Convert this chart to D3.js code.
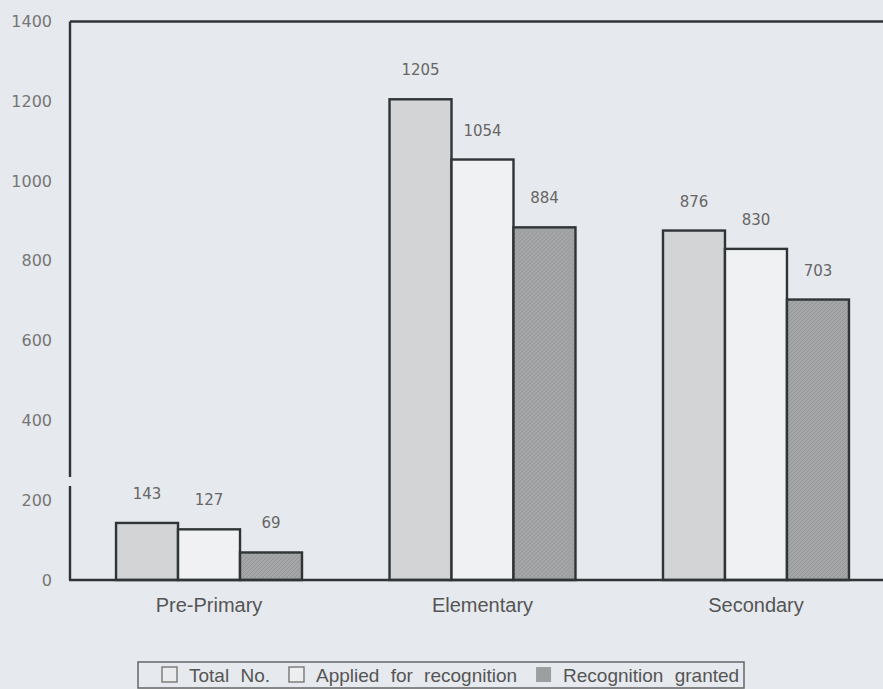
<!DOCTYPE html>
<html>
<head>
<meta charset="utf-8">
<script src="https://cdn.jsdelivr.net/npm/d3@7"></script>
<style>
  html, body { margin: 0; padding: 0; background: #e6e9ed; }
  svg { display: block; }
</style>
</head>
<body>
<div id="chart"></div>
<script>
// chart data
const categories = ["Pre-Primary", "Elementary", "Secondary"];
const seriesNames = ["Total No.", "Applied for recognition", "Recognition granted"];
const totalNo = [143, 1205, 876];
const applied = [127, 1054, 830];
const granted = [69, 884, 703];
const valueLabels = [["143", "127", "69"], ["1205", "1054", "884"], ["876", "830", "703"]];
const yTicks = [0, 200, 400, 600, 800, 1000, 1200, 1400];

const W = 883, H = 689;
const margin = {top: 21.5, left: 70, bottom: 580};
const fills = ["#d2d4d6", "#eff1f3", "url(#hatch)"];

const svg = d3.select("#chart").append("svg")
  .attr("width", W).attr("height", H);

svg.append("rect").attr("width", W).attr("height", H).attr("fill", "#e6e9ed");

// hatched fill for the darkest series
const pat = svg.append("defs").append("pattern")
  .attr("id", "hatch").attr("patternUnits", "userSpaceOnUse")
  .attr("width", 4).attr("height", 4);
pat.append("rect").attr("width", 4).attr("height", 4).attr("fill", "#a4a6a8");
pat.append("path").attr("d", "M0,4 L4,0").attr("stroke", "#939597").attr("stroke-width", 1);

const x0 = d3.scaleBand().domain(categories).range([69, 896])
  .paddingInner(0.32).paddingOuter(0.172);
const x1 = d3.scaleBand().domain(d3.range(3)).range([0, x0.bandwidth()]);
const y = d3.scaleLinear().domain([0, 1400]).range([margin.bottom, margin.top]);

// y tick labels
const yAxis = svg.append("g")
  .attr("transform", `translate(${margin.left},0)`)
  .call(d3.axisLeft(y).tickValues(yTicks).tickSize(0).tickPadding(18).tickFormat(d3.format("d")));
yAxis.select(".domain").remove();
yAxis.selectAll("text")
  .attr("font-family", "'DejaVu Sans', sans-serif")
  .attr("font-size", 16).attr("fill", "#767676");

// bars
const rows = categories.map((c, i) => ({cat: c, vals: [totalNo[i], applied[i], granted[i]], labels: valueLabels[i]}));
const groups = svg.selectAll("g.grp").data(rows).enter().append("g")
  .attr("class", "grp")
  .attr("transform", d => `translate(${x0(d.cat)},0)`);

groups.selectAll("rect").data(d => d.vals).enter().append("rect")
  .attr("x", (d, i) => x1(i))
  .attr("y", d => y(d))
  .attr("width", x1.bandwidth())
  .attr("height", d => y(0) - y(d))
  .attr("fill", (d, i) => fills[i])
  .attr("stroke", "#2f3436").attr("stroke-width", 2.4);

groups.selectAll("text").data(d => d.vals.map((v, i) => ({v: v, t: d.labels[i]}))).enter().append("text")
  .attr("x", (d, i) => x1(i) + x1.bandwidth() / 2)
  .attr("y", d => y(d.v) - 24)
  .attr("text-anchor", "middle")
  .attr("font-family", "'DejaVu Sans', sans-serif")
  .attr("font-size", 15).attr("fill", "#666")
  .text(d => d.t);

// frame: top line, left axis (with the small break from the scan), baseline
svg.append("line").attr("x1", margin.left).attr("x2", W).attr("y1", margin.top).attr("y2", margin.top)
  .attr("stroke", "#2f3436").attr("stroke-width", 2.4);
svg.append("line").attr("x1", margin.left).attr("x2", margin.left).attr("y1", margin.top).attr("y2", 477)
  .attr("stroke", "#2f3436").attr("stroke-width", 2.4);
svg.append("line").attr("x1", margin.left).attr("x2", margin.left).attr("y1", 486).attr("y2", margin.bottom)
  .attr("stroke", "#2f3436").attr("stroke-width", 2.4);

const xAxis = svg.append("g")
  .attr("transform", `translate(0,${margin.bottom})`)
  .call(d3.axisBottom(x0).tickSize(0).tickPadding(18));
xAxis.select(".domain").remove();
xAxis.selectAll("text")
  .attr("font-family", "'Liberation Sans', Arial, sans-serif")
  .attr("font-size", 20).attr("fill", "#555");
svg.append("line").attr("x1", margin.left - 1).attr("x2", W).attr("y1", margin.bottom).attr("y2", margin.bottom)
  .attr("stroke", "#2f3436").attr("stroke-width", 2.4);

// legend
const legend = svg.append("g");
legend.append("rect").attr("x", 138).attr("y", 662).attr("width", 606).attr("height", 26)
  .attr("fill", "none").attr("stroke", "#666").attr("stroke-width", 1.5);
const legFills = ["#e9ebed", "#eceef0", "#9c9ea0"];
const legStroke = ["#777", "#777", "none"];
let lx = 162;
seriesNames.forEach(function(name, i) {
  legend.append("rect").attr("x", lx).attr("y", 667).attr("width", 15).attr("height", 15)
    .attr("fill", legFills[i]).attr("stroke", legStroke[i]).attr("stroke-width", 1.4);
  const t = legend.append("text").attr("x", lx + 27).attr("y", 682)
    .attr("font-family", "'Liberation Sans', Arial, sans-serif")
    .attr("font-size", 19).attr("fill", "#555")
    .attr("word-spacing", 6)
    .text(name);
  lx += 27 + t.node().getComputedTextLength() + 19;
});
</script>
</body>
</html>
